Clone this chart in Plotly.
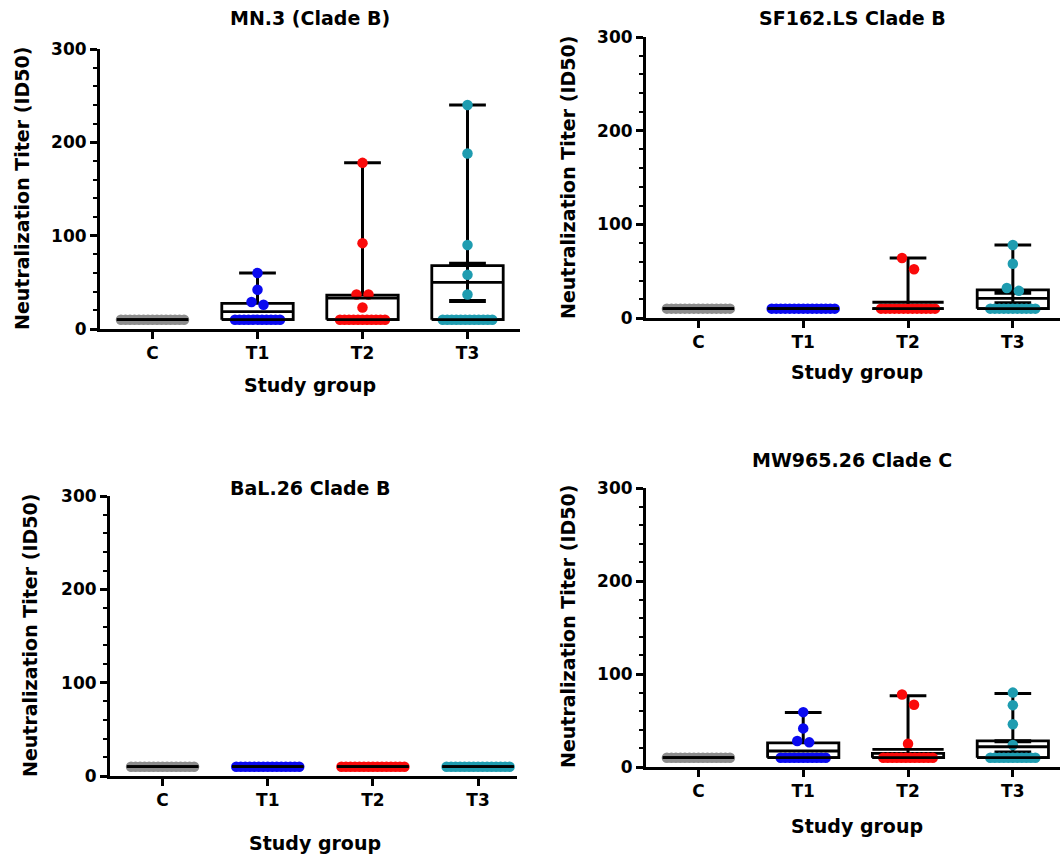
import plotly.graph_objects as go

W, H = 1060, 858
FONT = "DejaVu Sans"

groups = ["C", "T1", "T2", "T3"]
group_colors = ["#8c8c8c", "#0a0af0", "#fa0a0a", "#1e9cb0"]
titles = ["MN.3 (Clade B)", "SF162.LS Clade B", "BaL.26 Clade B", "MW965.26 Clade C"]
y_ticks = [0, 100, 200, 300]

# ---------------- data ----------------
# MN.3 (Clade B)
mn3_pts = [
    [10] * 15,
    [10] * 11 + [26, 29, 42, 60],
    [10] * 11 + [23, 37, 37, 92, 178],
    [10] * 12 + [37, 58, 90, 188, 240],
]
mn3_q1 = [10, 10, 10, 10]
mn3_med = [10, 10, 10, 10]
mn3_q3 = [10, 27.5, 36.4, 68]
mn3_mean = [10, 18.6, 33, 50]
mn3_wlo = [None, 27.5, 36.4, 30]
mn3_whi = [None, 60, 178, 240]
mn3_cap_lo = [None, None, None, 30]
mn3_cap_hi = [None, None, None, 70]

# SF162.LS Clade B
sf_pts = [
    [10] * 15,
    [10] * 15,
    [10] * 13 + [52, 64],
    [10] * 11 + [29, 32, 58, 78],
]
sf_q1 = [10, 10, 10, 10]
sf_med = [10, 10, 10, 10]
sf_q3 = [10, 10, 10, 30]
sf_mean = [10, 10, 16.8, 21]
sf_wlo = [None, None, 10, 15.7]
sf_whi = [None, None, 64, 78]
sf_cap_lo = [None, None, None, 15.7]
sf_cap_hi = [None, None, None, 27]

# BaL.26 Clade B
bal_pts = [
    [10] * 15,
    [10] * 15,
    [10] * 15,
    [10] * 15,
]
bal_q1 = [10, 10, 10, 10]
bal_med = [10, 10, 10, 10]
bal_q3 = [10, 10, 10, 10]
bal_mean = [10, 10, 10, 10]
bal_wlo = [None, None, None, None]
bal_whi = [None, None, None, None]
bal_cap_lo = [None, None, None, None]
bal_cap_hi = [None, None, None, None]

# MW965.26 Clade C
mw_pts = [
    [10] * 15,
    [10] * 11 + [26.5, 28, 41.5, 59],
    [10] * 12 + [25, 67, 78],
    [10] * 11 + [23.6, 46, 66.5, 80],
]
mw_q1 = [10, 10, 10, 10]
mw_med = [10, 10, 10, 10]
mw_q3 = [10, 26, 14.7, 28]
mw_mean = [10, 17.2, 19, 21.8]
mw_wlo = [None, 26, 14.7, 15.7]
mw_whi = [None, 58.5, 76.5, 79]
mw_cap_lo = [None, None, None, 15.7]
mw_cap_hi = [None, None, None, 27.7]

panels = [
    (mn3_pts, mn3_q1, mn3_med, mn3_q3, mn3_mean, mn3_wlo, mn3_whi, mn3_cap_lo, mn3_cap_hi),
    (sf_pts, sf_q1, sf_med, sf_q3, sf_mean, sf_wlo, sf_whi, sf_cap_lo, sf_cap_hi),
    (bal_pts, bal_q1, bal_med, bal_q3, bal_mean, bal_wlo, bal_whi, bal_cap_lo, bal_cap_hi),
    (mw_pts, mw_q1, mw_med, mw_q3, mw_mean, mw_wlo, mw_whi, mw_cap_lo, mw_cap_hi),
]

# ---------------- layout geometry (pixels) ----------------
# plot areas: left, right, top, bottom
areas = [(100, 520, 49, 329), (646, 1060, 37, 318), (110, 517, 496, 776), (646, 1060, 488, 767)]
x_ranges = [[-0.5, 3.5], [-0.5, 3.45], [-0.5, 3.37], [-0.5, 3.45]]
Y_RANGE = [0, 300]

BOX_HW = 0.34
CAP_HW = 0.175
DOT = 10.5


def swarm(vals, center, ppx, ppy):
    s = sorted(vals)
    bins = []
    for v in s:
        if bins and (v - bins[-1][0]) * ppy < 11.5:
            bins[-1].append(v)
        else:
            bins.append([v])
    xs, ys = [], []
    for b in bins:
        b = sorted(b, reverse=True)
        n = len(b)
        sp = (4.5 if n > 3 else 12.0) / ppx
        for k, v in enumerate(b):
            xs.append(center + (k - (n - 1) / 2) * sp)
            ys.append(v)
    return xs, ys


fig = go.Figure()
layout = dict(
    width=W, height=H, autosize=False, margin=dict(l=0, r=0, t=0, b=0, pad=0),
    paper_bgcolor="white", plot_bgcolor="white", showlegend=False,
    font=dict(family=FONT, color="black"),
)

for p, (area, xr, data) in enumerate(zip(areas, x_ranges, panels)):
    L, R, T, B = area
    ax = "" if p == 0 else str(p + 1)
    xref, yref = "x" + ax, "y" + ax
    ppx = (R - L) / (xr[1] - xr[0])
    ppy = (B - T) / (Y_RANGE[1] - Y_RANGE[0])
    pts, q1, med, q3, mean, wlo, whi, clo, chi = data

    # whiskers (vertical + caps) and extra caps
    wx, wy = [], []
    cx, cy = [], []
    for i in range(4):
        if whi[i] is not None:
            wx += [i, i, None, i - CAP_HW, i + CAP_HW, None]
            wy += [wlo[i], whi[i], None, whi[i], whi[i], None]
        for c in (clo[i], chi[i]):
            if c is not None:
                cx += [i - CAP_HW, i + CAP_HW, None]
                cy += [c, c, None]
    fig.add_trace(go.Scatter(x=wx, y=wy, mode="lines", line=dict(color="black", width=3),
                             xaxis=xref, yaxis=yref, hoverinfo="skip"))
    fig.add_trace(go.Scatter(x=cx, y=cy, mode="lines", line=dict(color="black", width=4),
                             xaxis=xref, yaxis=yref, hoverinfo="skip"))

    # box rectangles (q1..q3)
    bx, by = [], []
    for i in range(4):
        bx += [i - BOX_HW, i + BOX_HW, i + BOX_HW, i - BOX_HW, i - BOX_HW, None]
        by += [q1[i], q1[i], q3[i], q3[i], q1[i], None]
    fig.add_trace(go.Scatter(x=bx, y=by, mode="lines", line=dict(color="black", width=2.8),
                             xaxis=xref, yaxis=yref, hoverinfo="skip"))

    # points
    for i in range(4):
        xs, ys = swarm(pts[i], i, ppx, ppy)
        fig.add_trace(go.Scatter(x=xs, y=ys, mode="markers",
                                 marker=dict(color=group_colors[i], size=DOT, line=dict(width=0)),
                                 xaxis=xref, yaxis=yref, name=groups[i]))

    # median and mean lines on top
    mx, my = [], []
    for i in range(4):
        for v in (med[i], mean[i]):
            mx += [i - BOX_HW, i + BOX_HW, None]
            my += [v, v, None]
    fig.add_trace(go.Scatter(x=mx, y=my, mode="lines", line=dict(color="black", width=2.8),
                             xaxis=xref, yaxis=yref, hoverinfo="skip"))

    layout["xaxis" + ax] = dict(
        domain=[L / W, R / W], range=xr, anchor=yref, automargin=False,
        tickvals=list(range(4)), ticktext=groups,
        showline=True, linewidth=3, linecolor="black",
        ticks="outside", ticklen=7, tickwidth=3, tickcolor="black",
        showgrid=False, zeroline=False,
        tickfont=dict(family=FONT, size=17, weight="bold", color="black"),
    )
    layout["yaxis" + ax] = dict(
        domain=[1 - B / H, 1 - T / H], range=Y_RANGE, anchor=xref, automargin=False,
        tickvals=y_ticks,
        showline=True, linewidth=3, linecolor="black",
        ticks="outside", ticklen=7, tickwidth=3, tickcolor="black",
        minor=dict(dtick=20, ticks="outside", ticklen=4, tickwidth=2, tickcolor="black"),
        showgrid=False, zeroline=False,
        tickfont=dict(family=FONT, size=17, weight="bold", color="black"),
    )

fig.update_layout(**layout)

# titles and axis titles (pixel positions)
title_pos = [(310, 18), (852, 18), (310, 488), (852, 460)]
xtitle_pos = [(310, 385), (857, 372), (315, 843), (857, 826)]
ytitle_pos = [(22, 189), (568, 178), (30, 636), (568, 627)]

for p in range(4):
    tx, ty = title_pos[p]
    fig.add_annotation(x=tx / W, y=1 - ty / H, xref="paper", yref="paper", text="<b>" + titles[p] + "</b>",
                       showarrow=False, font=dict(family=FONT, size=19, color="black"),
                       xanchor="center", yanchor="middle")
    tx, ty = xtitle_pos[p]
    fig.add_annotation(x=tx / W, y=1 - ty / H, xref="paper", yref="paper", text="<b>Study group</b>",
                       showarrow=False, font=dict(family=FONT, size=19, color="black"),
                       xanchor="center", yanchor="middle")
    tx, ty = ytitle_pos[p]
    fig.add_annotation(x=tx / W, y=1 - ty / H, xref="paper", yref="paper",
                       text="<b>Neutralization Titer (ID50)</b>", textangle=-90,
                       showarrow=False, font=dict(family=FONT, size=19, color="black"),
                       xanchor="center", yanchor="middle")

fig.write_html("out.html")
